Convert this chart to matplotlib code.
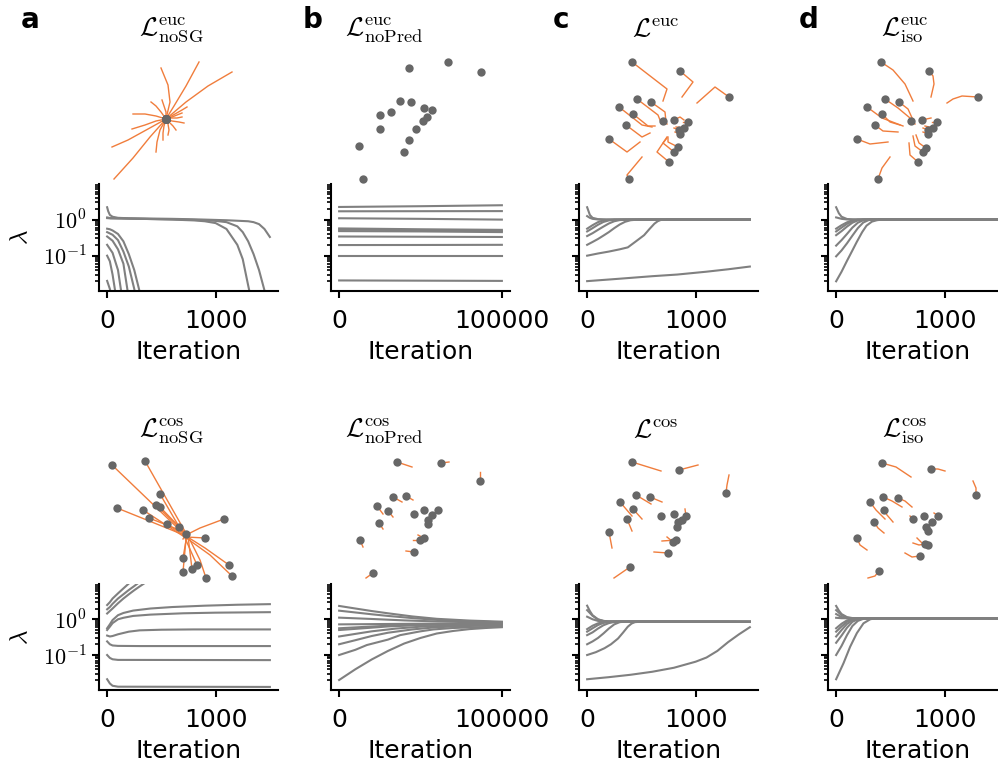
import matplotlib
matplotlib.use('Agg')
import matplotlib.pyplot as plt
from matplotlib.ticker import FixedLocator, FixedFormatter, LogLocator, NullFormatter, NullLocator

plt.rcParams['mathtext.fontset'] = 'cm'
plt.rcParams['font.family'] = ['DejaVu Sans']

W, H = 998, 763

# ----------------------------------------------------------------- text
titles_top = [r'$\mathcal{L}^{\rm euc}_{\rm noSG}$', r'$\mathcal{L}^{\rm euc}_{\rm noPred}$',
              r'$\mathcal{L}^{\rm euc}$', r'$\mathcal{L}^{\rm euc}_{\rm iso}$']
titles_bot = [r'$\mathcal{L}^{\rm cos}_{\rm noSG}$', r'$\mathcal{L}^{\rm cos}_{\rm noPred}$',
              r'$\mathcal{L}^{\rm cos}$', r'$\mathcal{L}^{\rm cos}_{\rm iso}$']
panel_letters = ['a', 'b', 'c', 'd']
xtick_vals = [[0, 1000], [0, 100000], [0, 1000], [0, 1000]]
x_max = [1500, 100000, 1500, 1500]
ytick_vals = [0.1, 1.0]
ytick_text = [r'$10^{-1}$', r'$10^{0}$']
xlabel_text = 'Iteration'
ylabel_text = r'$\lambda$'

# ------------------------------------------- eigenvalue curves (iter, lambda)
lam_euc_noSG = [
    ([0, 10, 25, 50, 100, 200, 400, 600, 800, 1000, 1100, 1200, 1300, 1350, 1400, 1450, 1500],
     [2.2, 1.7, 1.35, 1.2, 1.12, 1.09, 1.07, 1.05, 1.02, 0.98, 0.96, 0.93, 0.9, 0.85, 0.75, 0.55, 0.33]),
    ([0, 30, 200, 600, 800, 900, 1000, 1100, 1200, 1250, 1300, 1350],
     [1.15, 1.1, 1.07, 1.0, 0.95, 0.9, 0.8, 0.55, 0.2, 0.08, 0.015, 0.003]),
    ([0, 30, 200, 600, 900, 1000, 1100, 1200, 1250, 1300, 1350, 1400, 1450, 1500],
     [1.1, 1.08, 1.06, 1.02, 0.96, 0.92, 0.85, 0.65, 0.45, 0.25, 0.11, 0.04, 0.011, 0.003]),
    ([0, 25, 50, 100, 150, 200, 250, 300, 350], [0.56, 0.54, 0.5, 0.4, 0.25, 0.11, 0.04, 0.01, 0.002]),
    ([0, 50, 100, 150, 200, 250, 300], [0.45, 0.38, 0.27, 0.13, 0.05, 0.012, 0.002]),
    ([0, 50, 100, 150, 190, 250], [0.34, 0.26, 0.15, 0.06, 0.01, 0.001]),
    ([0, 50, 100, 130, 200], [0.2, 0.12, 0.04, 0.01, 0.001]),
    ([0, 25, 50, 75, 100], [0.1, 0.07, 0.03, 0.01, 0.003]),
    ([0, 25, 40, 60], [0.02, 0.012, 0.008, 0.003]),
]

lam_euc_noPred = [
    ([0, 50000, 100000], [2.24, 2.35, 2.5]),
    ([0, 50000, 100000], [1.7, 1.71, 1.72]),
    ([0, 50000, 100000], [1.09, 1.05, 1.0]),
    ([0, 50000, 100000], [0.57, 0.54, 0.52]),
    ([0, 50000, 100000], [0.53, 0.51, 0.48]),
    ([0, 50000, 100000], [0.48, 0.47, 0.45]),
    ([0, 50000, 100000], [0.34, 0.335, 0.33]),
    ([0, 50000, 100000], [0.197, 0.198, 0.2]),
    ([0, 50000, 100000], [0.1, 0.1, 0.1]),
    ([0, 50000, 100000], [0.0206, 0.0203, 0.02]),
]

lam_euc = [
    ([0, 25, 50, 100, 150, 200, 1500], [2.2, 1.35, 1.12, 1.03, 1.01, 1.0, 1.0]),
    ([0, 25, 50, 100, 200, 1500], [1.25, 1.12, 1.05, 1.01, 1.0, 1.0]),
    ([0, 50, 100, 150, 200, 250, 1500], [0.56, 0.7, 0.85, 0.95, 0.99, 1.0, 1.0]),
    ([0, 50, 100, 150, 200, 250, 300, 1500], [0.47, 0.58, 0.72, 0.86, 0.95, 0.99, 1.0, 1.0]),
    ([0, 50, 100, 150, 200, 250, 300, 350, 400, 1500],
     [0.35, 0.42, 0.52, 0.64, 0.78, 0.9, 0.97, 0.99, 1.0, 1.0]),
    ([0, 50, 100, 150, 200, 250, 300, 350, 400, 450, 500, 1500],
     [0.2, 0.24, 0.29, 0.36, 0.45, 0.58, 0.73, 0.87, 0.96, 0.99, 1.0, 1.0]),
    ([0, 100, 200, 300, 375, 450, 525, 575, 620, 650, 680, 750, 1500],
     [0.1, 0.115, 0.13, 0.15, 0.17, 0.25, 0.37, 0.55, 0.77, 0.9, 0.98, 1.0, 1.0]),
    ([0, 300, 600, 830, 1100, 1300, 1500], [0.0197, 0.023, 0.027, 0.030, 0.036, 0.042, 0.05]),
]

lam_euc_iso = [
    ([0, 25, 50, 100, 150, 200, 1500], [2.2, 1.5, 1.2, 1.04, 1.01, 1.0, 1.0]),
    ([0, 50, 100, 1500], [1.15, 1.05, 1.01, 1.0]),
    ([0, 50, 100, 150, 200, 1500], [0.56, 0.7, 0.84, 0.95, 1.0, 1.0]),
    ([0, 50, 100, 150, 200, 250, 1500], [0.47, 0.6, 0.76, 0.9, 0.98, 1.0, 1.0]),
    ([0, 50, 100, 150, 200, 250, 1500], [0.37, 0.48, 0.64, 0.82, 0.95, 1.0, 1.0]),
    ([0, 50, 100, 150, 200, 250, 300, 1500], [0.19, 0.27, 0.4, 0.6, 0.82, 0.96, 1.0, 1.0]),
    ([0, 50, 100, 150, 200, 250, 300, 350, 1500], [0.096, 0.14, 0.22, 0.36, 0.58, 0.83, 0.97, 1.0, 1.0]),
    ([0, 50, 100, 150, 190, 240, 280, 330, 375, 420, 1500],
     [0.0195, 0.036, 0.072, 0.14, 0.24, 0.45, 0.68, 0.88, 0.96, 1.0, 1.0]),
]

lam_cos_noSG = [
    ([0, 25, 50, 100, 150, 195, 230], [2.5, 3.0, 3.8, 5.3, 7.3, 9.7, 12.0]),
    ([0, 25, 50, 100, 150, 200, 250, 290], [1.9, 2.2, 2.7, 3.8, 5.0, 6.6, 8.5, 10.5]),
    ([0, 50, 100, 150, 200, 250, 300, 340], [1.45, 2.0, 2.8, 3.8, 5.0, 6.5, 8.3, 10.0]),
    ([0, 25, 50, 100, 150, 240, 400, 600, 900, 1200, 1500],
     [0.56, 0.72, 0.95, 1.3, 1.5, 1.75, 2.0, 2.2, 2.4, 2.55, 2.65]),
    ([0, 25, 50, 100, 150, 240, 400, 700, 1000, 1500],
     [0.5, 0.62, 0.78, 1.0, 1.1, 1.24, 1.35, 1.47, 1.53, 1.58]),
    ([0, 25, 50, 100, 200, 300, 500, 800, 1500], [0.35, 0.33, 0.34, 0.38, 0.45, 0.49, 0.51, 0.52, 0.52]),
    ([0, 25, 50, 100, 300, 1500], [0.24, 0.2, 0.185, 0.18, 0.178, 0.178]),
    ([0, 25, 50, 100, 1500], [0.1, 0.083, 0.076, 0.073, 0.072]),
    ([0, 25, 50, 100, 1500], [0.021, 0.016, 0.0138, 0.013, 0.0128]),
]

lam_cos_noPred = [
    ([0, 10000, 20000, 30000, 45000, 60000, 80000, 100000], [2.36, 2.0, 1.7, 1.47, 1.2, 1.03, 0.92, 0.857]),
    ([0, 10000, 20000, 30000, 45000, 60000, 80000, 100000], [1.74, 1.55, 1.38, 1.24, 1.08, 0.96, 0.88, 0.82]),
    ([0, 20000, 40000, 60000, 80000, 100000], [1.11, 1.02, 0.93, 0.87, 0.83, 0.8]),
    ([0, 50000, 100000], [0.72, 0.75, 0.77]),
    ([0, 15000, 30000, 50000, 75000, 100000], [0.56, 0.61, 0.66, 0.71, 0.74, 0.76]),
    ([0, 15000, 30000, 50000, 75000, 100000], [0.5, 0.56, 0.63, 0.69, 0.73, 0.75]),
    ([0, 10000, 20000, 35000, 50000, 70000, 100000], [0.33, 0.39, 0.46, 0.55, 0.62, 0.67, 0.71]),
    ([0, 10000, 20000, 30000, 45000, 60000, 80000, 100000], [0.2, 0.26, 0.34, 0.42, 0.52, 0.6, 0.65, 0.68]),
    ([0, 10000, 17000, 30000, 37500, 50000, 58000, 70000, 85000, 100000],
     [0.1, 0.14, 0.19, 0.27, 0.36, 0.46, 0.52, 0.57, 0.6, 0.62]),
    ([0, 10000, 20000, 30000, 40000, 50000, 60000, 70000, 80000, 90000, 100000],
     [0.02, 0.04, 0.075, 0.13, 0.21, 0.3, 0.4, 0.47, 0.53, 0.57, 0.6]),
]

lam_cos = [
    ([0, 25, 50, 100, 150, 200, 300, 1300, 1500], [2.4, 1.7, 1.3, 1.0, 0.9, 0.87, 0.86, 0.86, 0.84]),
    ([0, 50, 100, 150, 200, 300, 1500], [1.8, 1.25, 0.98, 0.9, 0.87, 0.86, 0.85]),
    ([0, 50, 100, 150, 200, 1500], [1.18, 1.0, 0.9, 0.87, 0.86, 0.85]),
    ([0, 50, 100, 150, 200, 250, 1500], [0.53, 0.66, 0.77, 0.83, 0.85, 0.86, 0.85]),
    ([0, 50, 100, 150, 200, 250, 1500], [0.45, 0.56, 0.69, 0.79, 0.84, 0.86, 0.85]),
    ([0, 50, 100, 150, 200, 250, 300, 1500], [0.36, 0.43, 0.55, 0.68, 0.78, 0.84, 0.86, 0.85]),
    ([0, 50, 100, 150, 200, 250, 300, 350, 1500], [0.2, 0.24, 0.3, 0.4, 0.55, 0.72, 0.83, 0.86, 0.85]),
    ([0, 80, 160, 220, 285, 330, 375, 410, 440, 500, 1500],
     [0.1, 0.12, 0.155, 0.2, 0.29, 0.42, 0.62, 0.76, 0.83, 0.86, 0.85]),
    ([0, 200, 400, 600, 800, 1000, 1100, 1200, 1300, 1400, 1500],
     [0.021, 0.024, 0.028, 0.034, 0.044, 0.065, 0.085, 0.13, 0.23, 0.38, 0.6]),
]

lam_cos_iso = [
    ([0, 25, 50, 100, 150, 200, 1500], [2.36, 1.75, 1.4, 1.15, 1.08, 1.07, 1.066]),
    ([0, 50, 100, 150, 1500], [1.8, 1.3, 1.1, 1.07, 1.066]),
    ([0, 50, 100, 150, 1500], [1.4, 1.15, 1.08, 1.07, 1.066]),
    ([0, 50, 1500], [1.1, 1.07, 1.066]),
    ([0, 50, 100, 150, 200, 1500], [0.56, 0.75, 0.93, 1.02, 1.06, 1.066]),
    ([0, 50, 100, 150, 200, 250, 1500], [0.45, 0.63, 0.85, 0.99, 1.05, 1.066, 1.066]),
    ([0, 50, 100, 150, 200, 250, 1500], [0.33, 0.5, 0.74, 0.94, 1.03, 1.06, 1.066]),
    ([0, 50, 100, 150, 200, 250, 1500], [0.22, 0.35, 0.58, 0.85, 1.0, 1.06, 1.066]),
    ([0, 50, 100, 150, 200, 250, 300, 1500], [0.1, 0.18, 0.36, 0.65, 0.9, 1.03, 1.066, 1.066]),
    ([0, 68, 129, 191, 252, 314, 360, 1500], [0.021, 0.059, 0.17, 0.41, 0.77, 1.0, 1.06, 1.066]),
]

# ------------------------------ 2-D embedding trajectories (last point = final)
emb_euc_noSG = [
    [(199, 62), (186, 86), (174, 106), (166, 119)], [(232, 72), (208, 86), (186, 102), (166, 119)],
    [(161, 68), (168, 85), (170, 102), (166, 119)], [(114, 179), (133, 158), (150, 137), (166, 119)],
    [(112, 147), (128, 140), (148, 129), (166, 119)], [(132, 129), (145, 125), (156, 121), (166, 119)],
    [(133, 114), (145, 114), (156, 116), (166, 119)], [(151, 102), (156, 106), (161, 112), (166, 119)],
    [(162, 100), (164, 106), (166, 112), (166, 119)], [(156, 152), (157, 142), (160, 130), (166, 119)],
    [(163, 140), (163, 133), (164, 126), (166, 119)], [(168, 135), (169, 130), (168, 124), (166, 119)],
    [(187, 107), (182, 110), (175, 114), (166, 119)], [(182, 113), (177, 115), (172, 117), (166, 119)],
    [(182, 117), (177, 118), (171, 118), (166, 119)], [(184, 123), (179, 122), (172, 121), (166, 119)],
    [(176, 130), (173, 126), (169, 122), (166, 119)],
]

emb_euc_noPred = [
    [(409, 68)], [(448, 62)], [(481, 72)], [(400, 101)], [(411, 102)], [(391, 112)],
    [(380, 115)], [(424, 108)], [(432, 110)], [(427, 117)], [(423, 121)], [(416, 129)],
    [(380, 129)], [(409, 140)], [(359, 146)], [(404, 152)], [(363, 179)],
]

emb_euc = [
    [(663, 101), (667, 89), (632, 62)], [(682, 97), (693, 82), (680, 71)],
    [(697, 103), (715, 87), (729, 97)], [(660, 120), (658, 115), (637, 99)],
    [(666, 122), (665, 112), (651, 102)], [(652, 127), (642, 125), (619, 107)],
    [(655, 126), (648, 126), (633, 114)], [(650, 133), (642, 137), (626, 125)],
    [(640, 142), (627, 152), (609, 139)], [(642, 157), (627, 175), (629, 179)],
    [(667, 137), (657, 152), (669, 162)], [(667, 138), (663, 143), (674, 152)],
    [(668, 137), (668, 142), (678, 147)], [(667, 124), (663, 121)],
    [(684, 120), (680, 117), (674, 120)], [(683, 122), (688, 122)],
    [(676, 127), (684, 128)], [(674, 128), (679, 130)], [(675, 132), (680, 134)],
]

emb_euc_iso = [
    [(913, 101), (905, 84), (893, 70), (881, 62)], [(931, 97), (934, 84), (933, 76), (929, 71)],
    [(947, 103), (953, 99), (962, 96), (978, 97)], [(910, 118), (898, 108), (885, 99)],
    [(913, 120), (908, 109), (899, 102)], [(903, 126), (882, 118), (867, 107)],
    [(900, 125), (890, 122), (882, 114)], [(898, 132), (883, 131), (875, 125)],
    [(888, 142), (870, 144), (857, 139)], [(890, 157), (882, 168), (878, 179)],
    [(909, 143), (910, 155), (918, 162)], [(913, 136), (915, 146), (923, 152)],
    [(916, 135), (919, 143), (926, 148)], [(915, 124), (911, 121)],
    [(931, 118), (922, 120)], [(932, 122), (937, 122)], [(925, 126), (933, 128)],
    [(923, 128), (928, 130)], [(923, 132), (928, 134)],
]

emb_cos_noSG = [
    [(186, 536), (112, 465)], [(187, 535), (145, 461)], [(185, 537), (160, 494)],
    [(186, 534), (156, 505)], [(188, 536), (160, 507)], [(184, 535), (117, 508)],
    [(186, 538), (143, 510)], [(187, 533), (149, 518)], [(185, 536), (167, 524)],
    [(187, 537), (179, 527)], [(183, 539), (186, 534)], [(188, 534), (200, 528), (224, 519)],
    [(186, 537), (205, 538)], [(187, 535), (183, 558)], [(185, 538), (197, 565)],
    [(188, 536), (192, 569)], [(186, 539), (183, 572)], [(187, 534), (200, 560), (206, 578)],
    [(186, 536), (205, 548), (229, 565)], [(185, 537), (210, 555), (232, 576)],
]

emb_cos_noPred = [
    [(412, 467), (397, 462)], [(449, 462), (441, 463)], [(480, 472), (480, 481)],
    [(402, 502), (393, 497)], [(413, 500), (406, 496)], [(383, 514), (377, 506)],
    [(393, 517), (388, 511)], [(383, 529), (379, 523)], [(414, 514)], [(424, 510)],
    [(438, 510)], [(432, 515)], [(428, 520)], [(428, 524)], [(363, 547), (360, 540)],
    [(418, 535), (424, 538)], [(413, 540), (420, 540)], [(406, 551), (414, 552)],
    [(366, 578), (373, 573)],
]

emb_cos = [
    [(661, 471), (632, 462)], [(698, 465), (679, 470)], [(729, 475), (727, 485), (726, 493)],
    [(651, 504), (636, 495)], [(662, 502), (650, 497)], [(632, 516), (620, 502)],
    [(642, 519), (633, 509)], [(632, 531), (627, 519)], [(661, 516)], [(674, 514)],
    [(685, 509), (686, 516)], [(682, 520)], [(678, 522)], [(677, 527)],
    [(612, 548), (609, 532)], [(662, 541), (676, 540)], [(667, 537), (673, 542)],
    [(654, 552), (668, 553)], [(614, 578), (630, 567)],
]

emb_cos_iso = [
    [(911, 477), (896, 467), (882, 463)], [(945, 471), (938, 469), (931, 469)],
    [(973, 481), (976, 488), (976, 495)], [(902, 507), (892, 501), (883, 497)],
    [(912, 507), (905, 501), (898, 498)], [(885, 519), (876, 510), (870, 502)],
    [(893, 522), (887, 515), (884, 510)], [(884, 533), (878, 528), (874, 522)],
    [(867, 550), (860, 545), (857, 538)], [(868, 578), (875, 576), (879, 571)],
    [(905, 553), (912, 557), (920, 556)], [(913, 543), (919, 545), (925, 544)],
    [(917, 538), (922, 543), (928, 545)], [(910, 516), (913, 519)], [(924, 516)],
    [(934, 513), (938, 516)], [(932, 522)], [(926, 527)], [(928, 531)],
]

lam_rows = [[lam_euc_noSG, lam_euc_noPred, lam_euc, lam_euc_iso],
            [lam_cos_noSG, lam_cos_noPred, lam_cos, lam_cos_iso]]
emb_rows = [[emb_euc_noSG, emb_euc_noPred, emb_euc, emb_euc_iso],
            [emb_cos_noSG, emb_cos_noPred, emb_cos, emb_cos_iso]]
title_rows = [titles_top, titles_bot]

# ----------------------------------------------------------------- layout
col_left = [99, 331, 579, 828]
line_w = 179
line_rows = [(184, 291), (584, 690)]
scat_rows = [(40, 182), (440, 582)]
scat_cols = [(60, 300), (300, 550), (550, 800), (800, 998)]
title_x = [171, 384, 656, 905]
title_y = [30, 431]
letter_x = [30, 313, 561, 809]

GRAY = '#808080'
DOT = '#676767'
ORANGE = '#f07d3c'

fig = plt.figure(figsize=(W / 100, H / 100), dpi=100)


def px_rect(x0, y0, x1, y1):
    return [x0 / W, 1 - y1 / H, (x1 - x0) / W, (y1 - y0) / H]


for r in range(2):
    for c in range(4):
        # -------- eigenvalue axes
        y0, y1 = line_rows[r]
        ax = fig.add_axes(px_rect(col_left[c], y0, col_left[c] + line_w, y1))
        for xs, ys in lam_rows[r][c]:
            ax.plot(xs, ys, color=GRAY, lw=1.5)
        ax.set_yscale('log')
        ax.set_ylim(0.0105, 9.7)
        xm = x_max[c]
        ax.set_xlim(-0.05 * xm, 1.05 * xm)
        ax.xaxis.set_major_locator(FixedLocator(xtick_vals[c]))
        ax.xaxis.set_minor_locator(NullLocator())
        ax.yaxis.set_major_locator(FixedLocator(ytick_vals))
        ax.yaxis.set_major_formatter(FixedFormatter(ytick_text))
        ax.yaxis.set_minor_locator(LogLocator(base=10, subs=[2, 3, 4, 5, 6, 7, 8, 9], numticks=20))
        ax.yaxis.set_minor_formatter(NullFormatter())
        for s in ['top', 'right']:
            ax.spines[s].set_visible(False)
        for s in ['left', 'bottom']:
            ax.spines[s].set_linewidth(1.5)
        ax.tick_params(axis='x', which='major', length=5, width=1.5, labelsize=18, pad=8)
        ax.tick_params(axis='y', which='major', length=5, width=1.5, labelsize=16, pad=4)
        ax.tick_params(axis='y', which='minor', length=3, width=1.2)
        if c != 0:
            ax.tick_params(axis='y', labelleft=False)
        ax.set_xlabel(xlabel_text, fontsize=18, labelpad=5)
        if c == 0:
            fig.text(20 / W, 1 - ((y0 + y1) / 2) / H, ylabel_text, rotation=90,
                     fontsize=18, ha='center', va='center')

        # -------- embedding axes
        sy0, sy1 = scat_rows[r]
        sx0, sx1 = scat_cols[c]
        sa = fig.add_axes(px_rect(sx0, sy0, sx1, sy1))
        sa.set_xlim(sx0, sx1)
        sa.set_ylim(sy1, sy0)
        sa.axis('off')
        for traj in emb_rows[r][c]:
            if len(traj) > 1:
                sa.plot([p[0] for p in traj], [p[1] for p in traj], color=ORANGE, lw=1.0,
                        clip_on=False, zorder=2)
        sa.scatter([t[-1][0] for t in emb_rows[r][c]], [t[-1][1] for t in emb_rows[r][c]],
                   s=36, color=DOT, zorder=3, clip_on=False, linewidths=0)

        fig.text(title_x[c] / W, 1 - title_y[r] / H, title_rows[r][c], fontsize=19,
                 ha='center', va='center')
        if r == 0:
            fig.text(letter_x[c] / W, 1 - 20 / H, panel_letters[c], fontsize=20,
                     fontweight='bold', ha='center', va='center')

fig.savefig('out.png', dpi=100)
